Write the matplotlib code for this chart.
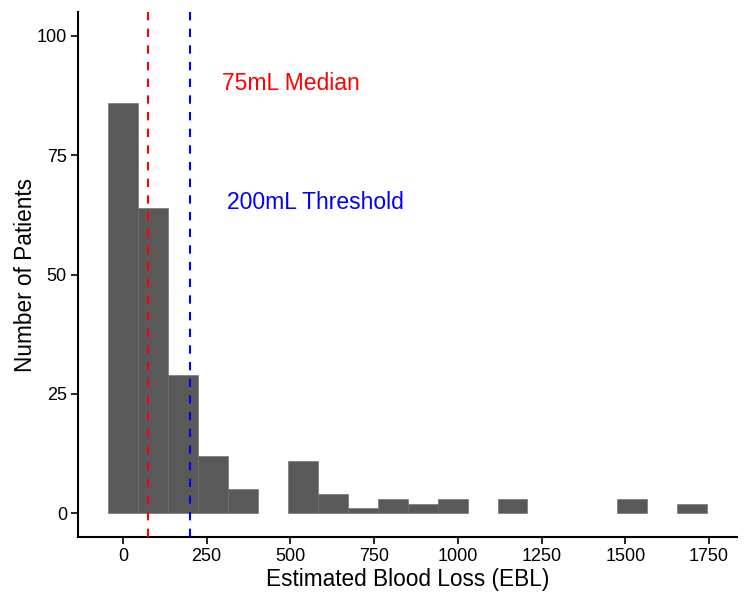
import numpy as np
import matplotlib
matplotlib.use('Agg')
import matplotlib.pyplot as plt

plt.rcParams['font.family'] = ['Liberation Sans', 'DejaVu Sans']

# histogram bins (ggplot style: 20 bins over 0..1700, centred on the min)
bin_centers = np.linspace(0, 1700, 20)
counts = [86, 64, 29, 12, 5, 0, 11, 4, 1, 3, 2, 3, 0, 3, 0, 0, 0, 3, 0, 2]
median_ebl = 75
threshold_ebl = 200
xticks = [0, 250, 500, 750, 1000, 1250, 1500, 1750]
yticks = [0, 25, 50, 75, 100]

binwidth = bin_centers[1] - bin_centers[0]

fig = plt.figure(figsize=(7.5, 6), dpi=100)
ax = fig.add_axes([0.104, 0.105, 0.879, 0.875])

# empty bins are not drawn at all (no outline on the baseline)
for c, n in zip(bin_centers, counts):
    if n > 0:
        ax.bar(c, n, width=binwidth, color='#595959',
               edgecolor='#6a6a6a', linewidth=0.4, zorder=2)

ax.axvline(median_ebl, color='red', linestyle=(0, (4, 4)), linewidth=1.5, zorder=3)
ax.axvline(threshold_ebl, color='blue', linestyle=(0, (4, 4)), linewidth=1.5, zorder=3)

ax.text(500, 90, '75mL Median', color='red', fontsize=16.5, ha='center', va='center')
ax.text(575, 65, '200mL Threshold', color='blue', fontsize=16.5, ha='center', va='center')

lo = bin_centers[0] - binwidth / 2
hi = bin_centers[-1] + binwidth / 2
pad = (hi - lo) * 0.05
ax.set_xlim(lo - pad, hi + pad)
ax.set_ylim(-5, 105)

ax.set_xticks(xticks)
ax.set_yticks(yticks)
ax.tick_params(labelsize=13, length=5, width=1.2, colors='black', pad=3)

for s in ['top', 'right']:
    ax.spines[s].set_visible(False)
for s in ['left', 'bottom']:
    ax.spines[s].set_linewidth(1.5)

ax.set_xlabel('Estimated Blood Loss (EBL)', fontsize=16.3, labelpad=2)
ax.set_ylabel('Number of Patients', fontsize=16.3, labelpad=0)

fig.savefig('out.png', dpi=100)
